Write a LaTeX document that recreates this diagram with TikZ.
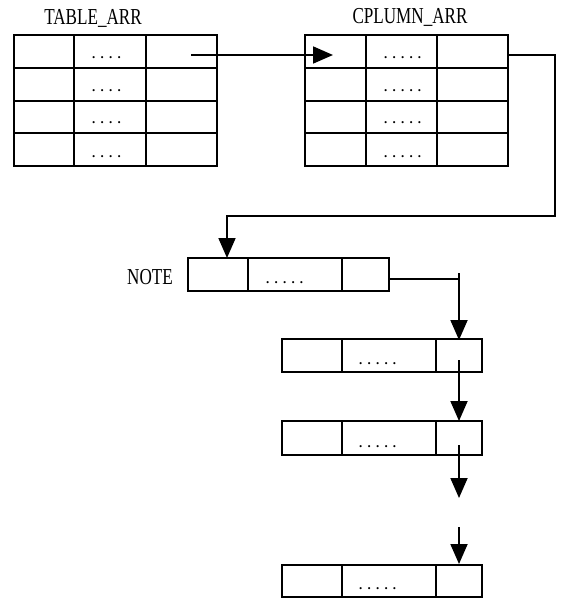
\documentclass[tikz,border=0pt]{standalone}
\usepackage{fontspec}
\setmainfont{Liberation Serif}
\newfontfamily\dotfont[LetterSpace=40]{Liberation Serif}
\usetikzlibrary{arrows.meta}
\tikzset{
  cell/.style={draw, line width=1.8pt, rectangle, inner sep=0pt, outer sep=0pt},
  lbl/.style={font=\fontsize{19}{19}\selectfont, xscale=0.9, yscale=1.2, inner sep=0pt},
  dots/.style={font=\dotfont\bfseries\fontsize{13}{13}\selectfont, inner sep=0pt, anchor=base west},
  conn/.style={line width=1.8pt},
  arr/.style={conn, -{Triangle[length=20pt,width=17pt]}}
}
\begin{document}
\begin{tikzpicture}[x=1pt,y=-1pt]
\useasboundingbox (0,0) rectangle (561,599);
% TABLE_ARR
\node[lbl] (tl) at (93,18) {TABLE\_ARR};
\foreach \r/\ya/\yb in {1/35/68,2/68/101,3/101/133,4/133/166}{
  \foreach \c/\xa/\xb in {1/14/74,2/74/146,3/146/217}{
    \node[cell, minimum width={\xb-\xa}, minimum height={\yb-\ya}] (t\r\c) at ({(\xa+\xb)/2},{(\ya+\yb)/2}) {};
  }
  \node[dots] (td\r) at (92,\yb-9) {....};
}
% CPLUMN_ARR
\node[lbl] (cl) at (410,17) {CPLUMN\_ARR};
\foreach \r/\ya/\yb in {1/35/68,2/68/101,3/101/133,4/133/166}{
  \foreach \c/\xa/\xb in {1/305/366,2/366/437,3/437/508}{
    \node[cell, minimum width={\xb-\xa}, minimum height={\yb-\ya}] (c\r\c) at ({(\xa+\xb)/2},{(\ya+\yb)/2}) {};
  }
  \node[dots] (cd\r) at (384,\yb-9) {.....};
}
% NOTE
\node[lbl] (nl) at (150,277) {NOTE};
\foreach \c/\xa/\xb in {1/188/248,2/248/342,3/342/389}{
  \node[cell, minimum width={\xb-\xa}, minimum height=33] (n\c) at ({(\xa+\xb)/2},274.5) {};
}
\node[dots] (nd) at (266,283) {.....};
% list boxes
\foreach \b/\ya/\yb in {2/339/372,3/421/455,4/565/597}{
  \foreach \c/\xa/\xb in {1/282/342,2/342/436,3/436/482}{
    \node[cell, minimum width={\xb-\xa}, minimum height={\yb-\ya}] (b\b\c) at ({(\xa+\xb)/2},{(\ya+\yb)/2}) {};
  }
  \node[dots] (bd\b) at (359,\yb-8) {.....};
}
% connector points
\coordinate (p1) at (191,55);
\coordinate (p2) at (333,55);
\coordinate (q1) at (508,55);
\coordinate (q2) at (555,55);
\coordinate (q3) at (555,216);
\coordinate (q4) at (227,216);
\coordinate (q5) at (227,258);
\coordinate (r1) at (389,279);
\coordinate (r2) at (459,279);
\coordinate (r0) at (459,273);
\coordinate (r3) at (459,340);
\coordinate (s1) at (459,360);
\coordinate (s2) at (459,421);
\coordinate (u1) at (459,445);
\coordinate (u2) at (459,498);
\coordinate (v1) at (459,527);
\coordinate (v2) at (459,564);
% connectors
\draw[arr] (p1) -- (p2);
\draw[arr] (q1) -- (q2) -- (q3) -- (q4) -- (q5);
\draw[conn] (r1) -- (r2);
\draw[arr] (r0) -- (r3);
\draw[arr] (s1) -- (s2);
\draw[arr] (u1) -- (u2);
\draw[arr] (v1) -- (v2);
\end{tikzpicture}
\end{document}
